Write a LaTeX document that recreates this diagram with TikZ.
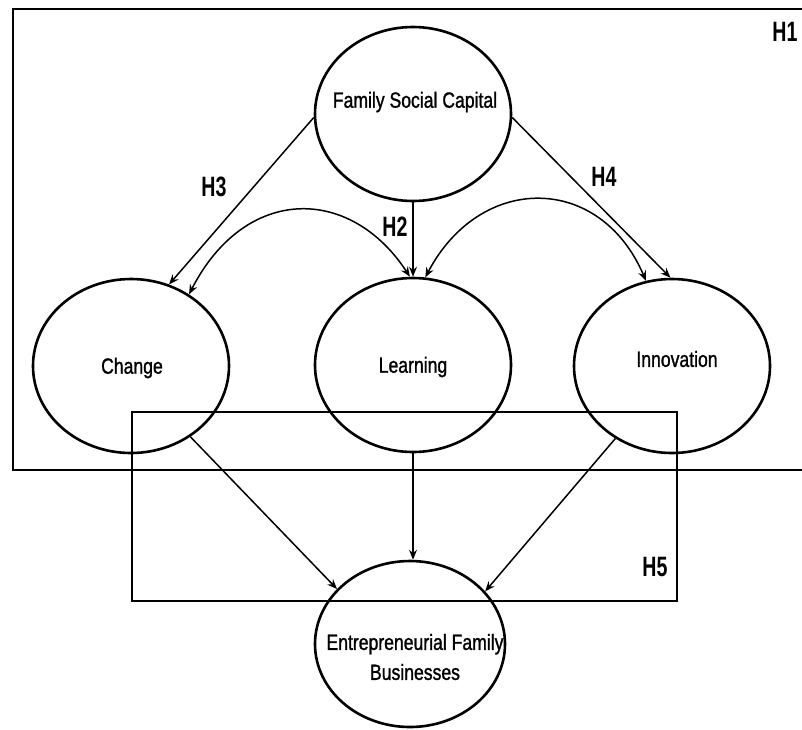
\documentclass[tikz,border=0pt]{standalone}
\usepackage{fontspec}
\setmainfont{Liberation Sans}
\newfontfamily\nodefont[FakeStretch=0.8,FakeBold=1.2]{Liberation Sans}
\newfontfamily\hypfont[FakeStretch=0.7]{Liberation Sans}
\usetikzlibrary{arrows.meta,shapes.geometric}
\begin{document}
\begin{tikzpicture}[x=1pt,y=-1pt,
  construct/.style={draw, ellipse, line width=2.6pt, minimum width=196pt, minimum height=174pt, inner sep=0pt},
  ctext/.style={font=\nodefont\fontsize{22}{30}\selectfont, inner sep=0pt},
  hyp/.style={font=\hypfont\bfseries\fontsize{28}{30}\selectfont, inner sep=0pt},
  arr/.style={line width=1.5pt, -{Stealth[length=10pt,width=8pt,inset=3.5pt]}},
  dbl/.style={line width=1.5pt, {Stealth[length=10pt,width=8pt,inset=3.5pt]}-{Stealth[length=10pt,width=8pt,inset=3.5pt]}},
  frame/.style={line width=2.4pt},
  innerframe/.style={line width=1.8pt}
]
\useasboundingbox (0,0) rectangle (802,729);
% frames
\draw[frame] (803,9) -- (13,9) -- (13,470) -- (803,470);
\draw[innerframe] (132,412) rectangle (677,601);
% constructs
\node[construct] (fsc) at (413,114) {};
\node[construct] (chg) at (131,366) {};
\node[construct] (lea) at (413,365) {};
\node[construct] (inn) at (672,366) {};
\node[construct, minimum width=190pt, minimum height=166pt] (efb) at (410,644) {};
% texts
\node[ctext] (fsct) at (415,102) {Family Social Capital};
\node[ctext] (chgt) at (132,368) {Change};
\node[ctext] (leat) at (413,367) {Learning};
\node[ctext] (innt) at (677,359) {Innovation};
\node[ctext, align=center] (efbt) at (415,657) {Entrepreneurial Family\\Businesses};
% hypothesis labels
\node[hyp] (h1) at (785,32) {H1};
\node[hyp] (h2) at (395,227) {H2};
\node[hyp] (h3) at (214,187) {H3};
\node[hyp] (h4) at (604,177) {H4};
\node[hyp] (h5) at (655,567) {H5};
% connectors
\draw[arr] (fsc.182) -- (chg.65);
\draw[arr] (fsc.358) -- (inn.91);
\draw[arr] (fsc.south) -- (lea.north);
\draw[dbl] (chg.51) .. controls (245,185) and (350,185) .. (lea.92);
\draw[dbl] (lea.82) .. controls (480,173) and (600,173) .. (inn.107);
\draw[arr] (chg.310) -- (efb.143);
\draw[arr] (lea.south) -- (lea.south |- efb.north);
\draw[arr] (inn.232) -- (efb.35);
\end{tikzpicture}
\end{document}
